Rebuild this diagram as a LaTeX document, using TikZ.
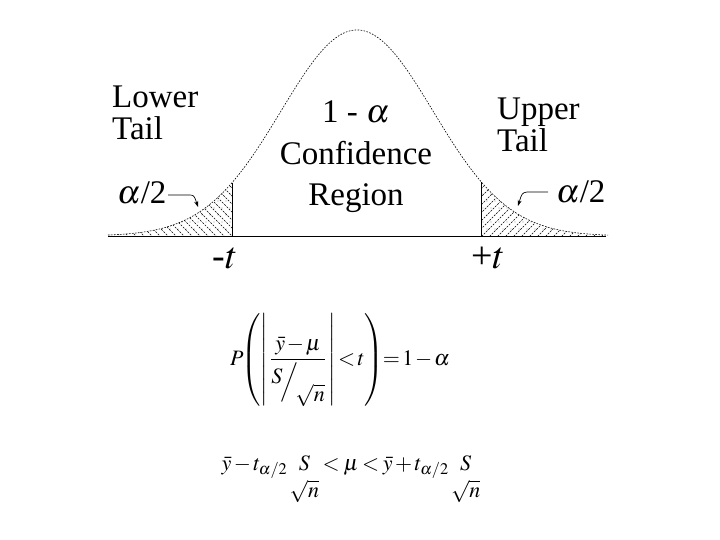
\documentclass[tikz,border=0pt]{standalone}
\usepackage{amsmath}
\usepackage{mathptmx}
\usepackage[no-math]{fontspec}
\setmainfont{Liberation Serif}
\usetikzlibrary{arrows.meta}
\tikzset{
  lbl/.style={font=\fontsize{33}{32}\selectfont, inner sep=0pt, align=left},
  ctr/.style={font=\fontsize{33}{41.5}\selectfont, inner sep=0pt, align=center},
  tlb/.style={font=\fontsize{38}{40}\selectfont, inner sep=0pt},
  frm/.style={font=\fontsize{22}{26}\selectfont, inner sep=0pt},
  curve/.style={line width=0.6pt, dash pattern=on 1.6pt off 1.4pt},
  axis/.style={line width=0.9pt},
  hatch/.style={line width=0.45pt, dash pattern=on 2pt off 1.2pt},
  ptr/.style={line width=0.7pt, -{Stealth[length=6pt,width=4pt]}}
}
\newcommand{\gaus}[1]{236-206*exp(-((#1-357)/76)^2/2)}
\newcommand{\mysn}{{\setlength{\tabcolsep}{0pt}\renewcommand{\arraystretch}{1.05}\begin{tabular}[t]{c}$S$\\$\sqrt{n}$\end{tabular}}}
\begin{document}
\begin{tikzpicture}[x=1pt,y=-1pt]
\useasboundingbox (0,0) rectangle (720,540);
% hatched tails
\begin{scope}
  \clip plot[domain=108:232,samples=80] (\x,{\gaus{\x}}) -- (232,236) -- cycle;
  \foreach \k in {0,...,30} \draw[hatch] ({10+8*\k},150) -- ++(100,100);
  \foreach \i in {0,...,16} \foreach \j in {0,...,7}
    \fill ({110+8*\i+4*mod(\j,2)},{180+7*\j}) circle (0.45);
\end{scope}
\begin{scope}
  \clip plot[domain=481:608,samples=80] (\x,{\gaus{\x}}) -- (608,236) -- (481,236) -- cycle;
  \foreach \k in {0,...,32} \draw[hatch] ({380+8*\k},250) -- ++(100,-100);
  \foreach \i in {0,...,16} \foreach \j in {0,...,7}
    \fill ({483+8*\i+4*mod(\j,2)},{180+7*\j}) circle (0.45);
\end{scope}
% curve and axis
\draw[curve] plot[domain=108:608,samples=250] (\x,{\gaus{\x}});
\coordinate (bl) at (108,236);
\coordinate (br) at (606,236);
\draw[axis] (bl) -- (br);
\coordinate (lt) at (232,236);
\coordinate (ltop) at (232,{\gaus{232}});
\coordinate (rt) at (481,236);
\coordinate (rtop) at (481,{\gaus{481}});
\draw[axis] (lt) -- (ltop);
\draw[axis] (rt) -- (rtop);
% labels
\node[lbl, anchor=base west] (lower) at (112,140) {Lower\\Tail};
\node[lbl, anchor=base west] (upper) at (497,152) {Upper\\Tail};
\node[ctr, anchor=base] (conf) at (356,206) {1 - $\alpha$\\Confidence\\Region};
\node[lbl, anchor=base west] (al) at (117,204) {$\alpha$/2};
\node[lbl, anchor=base west] (ar) at (556,203) {$\alpha$/2};
\node[tlb, anchor=base] (mt) at (225,268) {-$t$};
\node[tlb, anchor=base] (pt) at (488,268) {+$t$};
% pointers
\coordinate (la) at (168,195);
\coordinate (lb) at (188,195);
\coordinate (lc) at (198,207);
\draw[ptr] (la) -- (lb) .. controls (194,195) .. (lc);
\coordinate (ra) at (548,192);
\coordinate (rb) at (527,192);
\coordinate (rc) at (518,206);
\draw[ptr] (ra) -- (rb) .. controls (522,193) .. (rc);
% formulas
\node[frm] (f1) at (340,360) {\thickmuskip=2mu\medmuskip=1.5mu$P\mkern-4mu\left(\left|\,\dfrac{\bar{y}-\mu}{\raisebox{0.5ex}{$S$}\!\Big/\!\raisebox{-1.3ex}{$\sqrt{n}$}}\,\right|<t\right)\mkern-3mu=1-\alpha$};
\node[frm, anchor=base] (f2) at (351,470) {\thickmuskip=3mu\medmuskip=2mu$\bar{y}-t_{\alpha/2}\,\mysn<\mu<\bar{y}+t_{\alpha/2}\,\mysn$};
\end{tikzpicture}
\end{document}
